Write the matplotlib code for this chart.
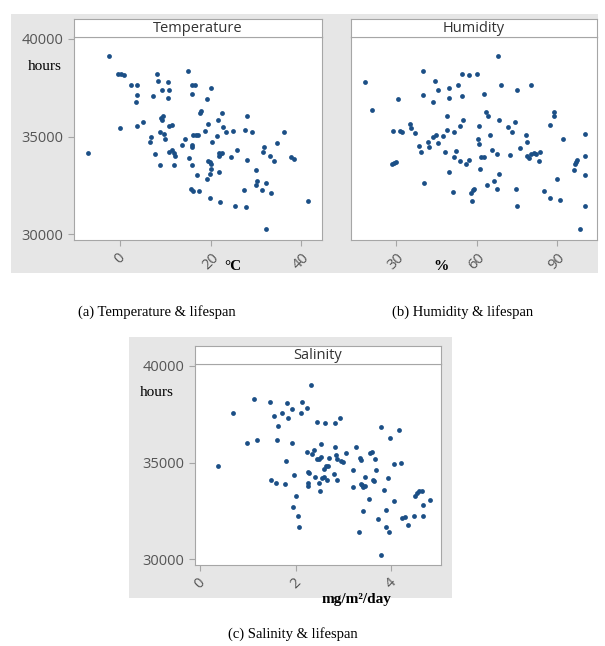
import numpy as np
import matplotlib
matplotlib.use("Agg")
import matplotlib.pyplot as plt
from matplotlib.patches import Rectangle

# data
temp_x = [-7.0, -2.5, -0.4, 0.1, 0.9, -0.1, 2.4, 3.8, 3.8, 3.6, 3.8, 5.0, 7.2, 8.1, 8.4,
          9.3, 10.7, 10.6, 10.6, 9.3, 9.4, 9.1, 6.8, 6.6, 7.7, 8.9, 8.9, 9.6, 10.0, 10.7,
          11.4, 10.7, 11.4, 11.9, 12.1, 12.0, 13.7, 14.4, 15.0, 15.8, 16.5, 15.8, 15.8, 15.8,
          15.2, 15.9, 16.2, 16.8, 17.1, 16.9, 15.7, 16.0, 17.5, 17.6, 17.9, 19.2, 20.1, 18.7,
          19.4, 19.3, 19.8, 20.1, 20.1, 19.8, 19.2, 19.9, 20.4, 21.4, 21.7, 22.4, 21.8, 22.1,
          22.4, 21.8, 21.9, 22.1, 22.7, 23.3, 24.9, 24.4, 25.3, 25.9, 27.3, 27.6, 28.0, 28.1,
          27.8, 29.2, 30.0, 30.2, 30.1, 31.3, 31.5, 31.7, 32.3, 32.3, 33.1, 33.4, 34.0, 34.6,
          36.3, 37.8, 38.4, 41.6]
temp_y = [34180, 39110, 38220, 38200, 38170, 35450, 37620, 37620, 37120, 36750, 35550, 35750,
          37060, 38220, 37840, 37400, 37400, 37790, 36950, 35860, 36060, 35950, 34970, 34710,
          34090, 33560, 35220, 35140, 34900, 35550, 35580, 34230, 34300, 34180, 34020, 33560,
          34590, 34850, 38370, 37620, 37620, 37190, 34590, 34440, 33890, 33560, 35090, 35090,
          35090, 33050, 32310, 32210, 32210, 36230, 36290, 36920, 37480, 35270, 35650, 33770,
          33680, 33600, 33360, 33070, 32830, 31830, 34710, 35030, 35860, 36230, 34180, 34110,
          34180, 34010, 33190, 31660, 35510, 35240, 35290, 33970, 31440, 34300, 32280, 35340,
          36060, 33800, 31400, 35210, 33290, 32740, 32530, 32260, 34230, 34450, 32600, 30260,
          34010, 32090, 33770, 34660, 35240, 33970, 33840, 31710]

hum_x = [18.6, 21.2, 28.8, 30.7, 28.5, 29.4, 30.1, 31.4, 32.2, 35.1, 35.6, 37.2, 38.7, 39.4,
         39.9, 39.9, 40.3, 42.0, 42.4, 43.7, 43.9, 44.7, 44.4, 45.5, 45.5, 47.4, 49.0, 49.0,
         48.3, 49.6, 49.6, 49.6, 51.4, 51.7, 52.4, 51.7, 52.9, 53.7, 54.0, 54.4, 54.7, 54.8,
         56.2, 57.0, 57.1, 58.0, 58.6, 59.1, 58.2, 60.3, 60.4, 60.9, 61.1, 61.6, 62.9, 61.4,
         62.9, 63.7, 64.2, 63.8, 64.9, 65.7, 66.4, 67.8, 68.0, 68.3, 68.5, 69.3, 67.6, 71.6,
         72.6, 73.3, 74.5, 74.8, 75.2, 75.2, 76.3, 78.6, 78.7, 78.9, 79.4, 80.2, 81.3, 82.0,
         80.2, 83.5, 83.4, 85.2, 87.3, 87.3, 88.8, 88.8, 90.1, 91.2, 92.4, 96.5, 96.8, 97.6,
         97.2, 98.7, 100.3, 100.3, 100.3, 100.3]
hum_y = [37790, 36340, 35290, 36920, 33580, 33630, 33680, 35290, 35220, 35650, 35450, 35170,
         34540, 34230, 38370, 37120, 32620, 34710, 34450, 36760, 34980, 35070, 37860, 37380,
         34660, 35020, 36060, 35340, 34230, 37470, 36950, 33190, 32180, 35240, 34280, 33940,
         37640, 33770, 35550, 38220, 37060, 35870, 33580, 38170, 33820, 32110, 32240, 32300,
         31680, 38220, 34880, 34620, 35530, 33970, 33970, 33340, 37180, 36250, 36060, 32500,
         35070, 34300, 32710, 34110, 39110, 35870, 33080, 37640, 32300, 35480, 34080, 35220,
         35750, 32300, 37380, 31420, 34400, 35070, 34710, 34010, 33900, 34110, 34140, 34130,
         37640, 34200, 33770, 32190, 35600, 31830, 36250, 36030, 32830, 31730, 34880, 33290,
         33580, 33800, 33700, 30270, 35120, 34020, 33050, 31460]

sal_x = [0.38, 0.68, 0.98, 1.12, 1.19, 1.47, 1.49, 1.55, 1.59, 1.63, 1.61, 1.71, 1.77, 1.79,
         1.81, 1.84, 1.92, 1.92, 1.97, 2.00, 1.95, 2.04, 2.07, 2.11, 2.14, 2.23, 2.23, 2.26,
         2.28, 2.25, 2.25, 2.32, 2.35, 2.39, 2.41, 2.44, 2.49, 2.51, 2.44, 2.49, 2.53, 2.53,
         2.56, 2.60, 2.59, 2.63, 2.67, 2.62, 2.65, 2.69, 2.81, 2.82, 2.82, 2.86, 2.85, 2.86,
         2.93, 2.95, 2.99, 3.06, 3.19, 3.19, 3.27, 3.33, 3.34, 3.36, 3.37, 3.41, 3.38, 3.40,
         3.46, 3.46, 3.53, 3.56, 3.60, 3.62, 3.64, 3.66, 3.68, 3.73, 3.78, 3.79, 3.85, 3.88,
         3.88, 3.94, 3.96, 3.98, 4.05, 4.06, 4.17, 4.21, 4.22, 4.28, 4.34, 4.47, 4.50, 4.54,
         4.59, 4.64, 4.66, 4.66, 4.82]
sal_y = [34820, 37580, 36020, 38300, 36180, 38150, 34080, 37430, 33930, 36900, 36180, 37580,
         33910, 35080, 38100, 37310, 37750, 36020, 34340, 33260, 32680, 32260, 31680, 37580,
         38150, 37800, 35540, 34530, 34460, 33930, 33790, 39020, 35460, 35660, 34250, 37100,
         33930, 33520, 35180, 35200, 35280, 35970, 34200, 34250, 34680, 34840, 34820, 37030,
         34100, 35230, 34390, 35800, 37050, 34100, 35370, 35200, 37310, 35080, 35030, 35490,
         34600, 33720, 35800, 31420, 35250, 35110, 33910, 33720, 33830, 32470, 33790, 34250,
         33140, 35490, 35570, 34100, 34030, 35180, 34630, 32060, 36830, 30220, 33570, 32540,
         31650, 34200, 31390, 36260, 34910, 32990, 36690, 34960, 32140, 32160, 31780, 32260,
         33290, 33450, 33530, 33520, 32800, 32210, 33050]

W, H = 605, 646
DOT = "#1b4f86"
GRAY = "#555555"
SANS = "Open Sans"

fig = plt.figure(figsize=(W / 100, H / 100), dpi=100)
fig.patch.set_facecolor("white")


def box(x0, y0, x1, y1):
    # pixel box (top-left origin) -> figure coords
    return [x0 / W, 1 - y1 / H, (x1 - x0) / W, (y1 - y0) / H]


# gray panel backgrounds, behind the axes
for x0, y0, x1, y1 in [(11, 14, 598, 273), (129, 337, 452, 598)]:
    b = box(x0, y0, x1, y1)
    fig.patches.append(Rectangle((b[0], b[1]), b[2], b[3], transform=fig.transFigure,
                                 facecolor="#e6e6e6", edgecolor="none", zorder=-5))


def panel(xs, ys, area, title, xlim, xticks, show_y):
    x0, y0, x1, y1 = area
    ax = fig.add_axes(box(x0, y0, x1, y1))
    ax.scatter(xs, ys, s=12, color=DOT, linewidths=0, zorder=3)
    ax.set_xlim(xlim)
    ax.set_ylim(29700, 40100)
    ax.set_xticks(xticks)
    ax.set_yticks([30000, 35000, 40000])
    for s in ax.spines.values():
        s.set_color("#a6a6a6")
    ax.tick_params(axis="x", colors="#a6a6a6", labelcolor=GRAY, labelsize=10.5,
                   length=4, labelrotation=45)
    ax.tick_params(axis="y", colors="#a6a6a6", labelcolor=GRAY, labelsize=10.5,
                   length=4 if show_y else 0, labelleft=show_y)
    for lab in ax.get_xticklabels() + ax.get_yticklabels():
        lab.set_family(SANS)
    # header strip
    st = fig.add_axes(box(x0, y0 - 18, x1, y0))
    st.set_xticks([])
    st.set_yticks([])
    for s in st.spines.values():
        s.set_color("#a6a6a6")
    st.text(0.5, 0.45, title, ha="center", va="center", fontsize=10.5, family=SANS,
            color="#333333", transform=st.transAxes)
    return ax


panel(temp_x, temp_y, (74, 37, 322, 240), "Temperature", (-10.2, 44.6), [0, 20, 40], True)
panel(hum_x, hum_y, (351, 37, 597, 240), "Humidity", (13.2, 104.9), [30, 60, 90], False)
panel(sal_x, sal_y, (195, 364, 441, 565), "Salinity", (-0.105, 5.04), [0, 2, 4], True)

serif = "Liberation Serif"
fig.text(45 / W, 1 - 66 / H, "hours", fontsize=11, family=serif, ha="center", va="center")
fig.text(157 / W, 1 - 392 / H, "hours", fontsize=11, family=serif, ha="center", va="center")
fig.text(233 / W, 1 - 266 / H, "°C", fontsize=11, family=serif, weight="bold",
         ha="center", va="center")
fig.text(441 / W, 1 - 266 / H, "%", fontsize=11, family=serif, weight="bold",
         ha="center", va="center")
fig.text(356 / W, 1 - 599 / H, "mg/m²/day", fontsize=11, family=serif, weight="bold",
         ha="center", va="center")

fig.text(157 / W, 1 - 312 / H, "(a) Temperature & lifespan", fontsize=10.5, family=serif,
         ha="center", va="center")
fig.text(463 / W, 1 - 312 / H, "(b) Humidity & lifespan", fontsize=10.5, family=serif,
         ha="center", va="center")
fig.text(293 / W, 1 - 634 / H, "(c) Salinity & lifespan", fontsize=10.5, family=serif,
         ha="center", va="center")

fig.savefig("out.png", dpi=100)
